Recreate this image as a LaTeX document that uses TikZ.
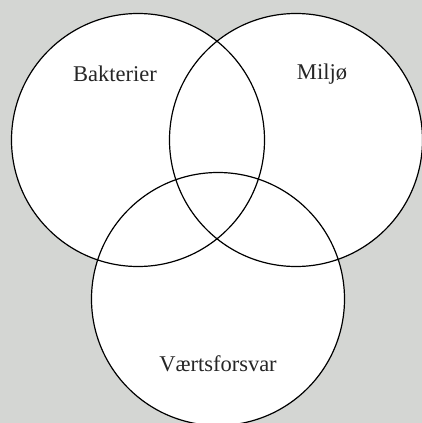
\documentclass[tikz,border=0pt]{standalone}
\usepackage{fontspec}
\setmainfont{Liberation Serif}
\usepackage{xcolor}
\usepackage{tikz}
\usetikzlibrary{positioning}

\definecolor{panelgray}{RGB}{212,214,211}

\begin{document}
\begin{tikzpicture}[
  x=1pt, y=-1pt,
  ring/.style={circle, draw, line width=1.2pt, minimum size=253pt, inner sep=0pt},
  setlabel/.style={font=\fontsize{22.5}{27}\selectfont, text=black!85}
]
% frame
\fill[panelgray] (0,0) rectangle (422,423);
\useasboundingbox (0,0) rectangle (422,423);
\clip (0,0) rectangle (422,423);
% white discs first, outlines after
\foreach \cx/\cy in {138/140, 296/140, 218/299}
  \fill[white] (\cx,\cy) circle (126.5);
\node[ring] (bakterier) at (138,140) {};
\node[ring] (miljo) at (296,140) {};
\node[ring] (vert) at (218,299) {};
% labels
\node[setlabel] (labB) at (115,74) {Bakterier};
\node[setlabel] (labM) at (322,74) {Miljø};
\node[setlabel] (labV) at (218,364) {Værtsforsvar};
\end{tikzpicture}
\end{document}
